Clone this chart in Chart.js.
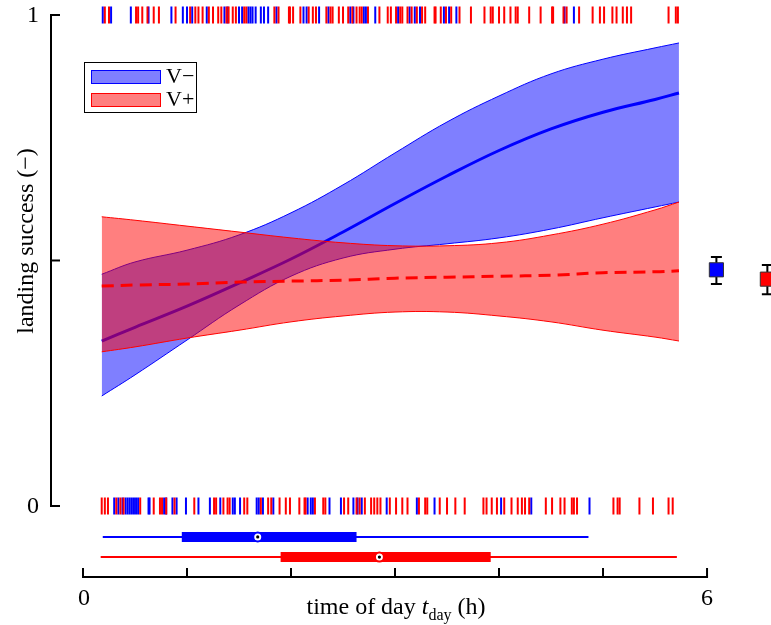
<!DOCTYPE html>
<html>
<head>
<meta charset="utf-8">
<script src="https://cdn.jsdelivr.net/npm/chart.js@4.4.0/dist/chart.umd.min.js"></script>
<style>
  html, body { margin: 0; padding: 0; background: #fff; }
  #wrap { width: 771px; height: 625px; }
</style>
</head>
<body>
<div id="wrap"><canvas id="myChart" width="771" height="625"></canvas></div>
<script>
// time grid (h) for the fitted curves
let tGrid = [0.18, 0.5, 1, 1.5, 2, 2.5, 3, 3.5, 4, 4.5, 5, 5.5, 5.73];

// V- fit and band
let blueMean = [0.336, 0.364, 0.407, 0.454, 0.503, 0.558, 0.616, 0.672, 0.724, 0.768, 0.802, 0.828, 0.841];
let blueUpper = [0.472, 0.497, 0.521, 0.552, 0.597, 0.654, 0.719, 0.782, 0.835, 0.88, 0.91, 0.933, 0.943];
let blueLower = [0.224, 0.267, 0.338, 0.409, 0.468, 0.505, 0.523, 0.534, 0.546, 0.564, 0.587, 0.609, 0.619];

// V+ fit and band
let redMean = [0.448, 0.45, 0.452, 0.456, 0.458, 0.46, 0.464, 0.466, 0.468, 0.47, 0.475, 0.477, 0.479];
let redUpper = [0.589, 0.582, 0.57, 0.558, 0.546, 0.536, 0.53, 0.53, 0.536, 0.552, 0.574, 0.603, 0.619];
let redLower = [0.314, 0.324, 0.342, 0.358, 0.375, 0.387, 0.395, 0.395, 0.387, 0.375, 0.358, 0.344, 0.336];

// observations: successes (top rug) and failures (bottom rug), time in h
let succBlue = [0.19, 0.27, 0.46, 0.63, 0.85, 0.96, 1.0, 1.05, 1.19, 1.36, 1.39, 1.5, 1.53, 1.59, 1.61, 1.63, 1.66, 1.71, 1.74, 1.78, 1.86,
  2.12, 2.15, 2.27, 2.36, 2.57, 2.6, 2.7, 2.72, 2.81, 3.03, 3.14, 3.19, 3.24, 3.47, 3.52, 3.59, 4.63, 4.72];
let succRed = [0.21, 0.25, 0.51, 0.53, 0.57, 0.62, 0.68, 0.73, 0.89, 1.03, 1.08, 1.11, 1.15, 1.21, 1.25, 1.3, 1.33, 1.38, 1.4, 1.44, 1.47,
  1.55, 1.57, 1.84, 1.88, 1.98, 1.99, 2.02, 2.09, 2.17, 2.21, 2.24, 2.34, 2.38, 2.4, 2.46, 2.5, 2.55, 2.59, 2.63, 2.66, 2.68, 2.74,
  2.85, 2.93, 2.96, 3.01, 3.05, 3.07, 3.12, 3.16, 3.21, 3.26, 3.29, 3.38, 3.39, 3.44, 3.49, 3.54, 3.62, 3.73, 3.86, 3.92, 3.94, 4.0,
  4.05, 4.11, 4.16, 4.18, 4.29, 4.4, 4.51, 4.52, 4.62, 4.65, 4.77, 4.9, 4.97, 5.01, 5.09, 5.13, 5.19, 5.23, 5.27, 5.63, 5.7, 5.72];
let failBlue = [0.3, 0.34, 0.38, 0.41, 0.43, 0.45, 0.47, 0.49, 0.51, 0.53, 0.63, 0.64, 0.78, 0.8, 0.86, 0.9, 0.99, 1.11, 1.22, 1.32,
  1.44, 1.46, 1.51, 1.67, 1.69, 1.73, 1.83, 2.16, 2.19, 2.21, 2.37, 2.48, 2.6, 2.64, 2.68, 2.92, 3.21, 3.38, 4.02, 4.31, 4.87];
let failRed = [0.18, 0.21, 0.24, 0.32, 0.36, 0.39, 0.55, 0.68, 0.74, 0.76, 0.8, 0.88, 1.07, 1.26, 1.28, 1.35, 1.39, 1.41, 1.55, 1.58,
  1.71, 1.78, 1.81, 1.89, 1.95, 1.99, 2.08, 2.13, 2.14, 2.23, 2.31, 2.33, 2.51, 2.55, 2.63, 2.66, 2.71, 2.77, 2.8, 2.83, 2.86, 2.95,
  3.01, 3.07, 3.12, 3.23, 3.29, 3.31, 3.43, 3.5, 3.58, 3.67, 3.85, 3.88, 3.93, 3.98, 4.05, 4.12, 4.18, 4.22, 4.25, 4.29, 4.45, 4.51,
  4.59, 4.63, 4.7, 4.72, 4.75, 5.1, 5.14, 5.16, 5.35, 5.48, 5.63, 5.67];

// box plots of t_day: min, q1, median, q3, max
let blueBox = [0.19, 0.95, 1.68, 2.63, 4.86];
let redBox = [0.17, 1.9, 2.85, 3.92, 5.71];

// overall success rate with interval [V-, V+]
let rateMean = [0.481, 0.462];
let rateLow = [0.452, 0.431];
let rateHigh = [0.507, 0.491];

const BLUE = "#0000ff";
const RED = "#ff0000";
const FONT = '"Liberation Serif", "Times New Roman", serif';
const rowBlue = -0.063, rowRed = -0.104; // y of the box plot rows
const rateX = [6.09, 6.58];

function pts(xs, ys) {
  return xs.map((x, i) => ({ x: x, y: ys[i] }));
}
function rug(xs, y) {
  return xs.map((x) => ({ x: x, y: y }));
}
function curve(data, color, extra) {
  return Object.assign({
    type: "line",
    data: data,
    borderColor: color,
    borderWidth: 1,
    pointRadius: 0,
    fill: false,
    tension: 0.4,
  }, extra);
}
function ticks(xs, y, color) {
  return {
    type: "scatter",
    data: rug(xs, y),
    pointStyle: "line",
    rotation: 90,
    radius: 8.5,
    borderColor: color,
    borderWidth: 2,
    order: 4,
  };
}
function seg(a, b, y, color, w) {
  return {
    type: "line",
    data: [{ x: a, y: y }, { x: b, y: y }],
    borderColor: color,
    borderWidth: w,
    borderCapStyle: "butt",
    pointRadius: 0,
    order: 3,
  };
}
function box(stats, y, color) {
  return [
    seg(stats[0], stats[4], y, color, 2),
    seg(stats[1], stats[3], y, color, 10),
    { type: "scatter", data: [{ x: stats[2], y: y }], pointStyle: "circle", radius: 4.5,
      backgroundColor: "#fff", borderColor: color, borderWidth: 2, order: 2 },
    { type: "scatter", data: [{ x: stats[2], y: y }], pointStyle: "circle", radius: 1.6,
      backgroundColor: "#000", borderColor: "#000", borderWidth: 0, order: 1 },
  ];
}
function rate(i, color) {
  let x = rateX[i];
  return [
    { type: "line", data: [{ x: x, y: rateLow[i] }, { x: x, y: rateHigh[i] }], borderColor: "#000",
      borderWidth: 2, pointRadius: 0, order: 3 },
    { type: "scatter", data: [{ x: x, y: rateLow[i] }, { x: x, y: rateHigh[i] }], pointStyle: "line",
      radius: 5.5, borderColor: "#000", borderWidth: 2, order: 3 },
    { type: "scatter", data: [{ x: x, y: rateMean[i] }], pointStyle: "rect", radius: 10,
      backgroundColor: color, borderColor: "#333", borderWidth: 1, order: 2 },
  ];
}

let datasets = [
  curve(pts(tGrid, blueUpper), BLUE, { fill: "+1", backgroundColor: "rgba(0,0,255,0.5)", order: 10 }),
  curve(pts(tGrid, blueLower), BLUE, { order: 9 }),
  curve(pts(tGrid, blueMean), BLUE, { borderWidth: 3, order: 8 }),
  curve(pts(tGrid, redUpper), RED, { fill: "+1", backgroundColor: "rgba(255,0,0,0.5)", order: 7 }),
  curve(pts(tGrid, redLower), RED, { order: 6 }),
  curve(pts(tGrid, redMean), RED, { borderWidth: 3, borderDash: [12, 7], order: 5 }),
  ticks(succRed, 1, RED),
  ticks(failRed, 0, RED),
  ticks(succBlue, 1, BLUE),
  ticks(failBlue, 0, BLUE),
].concat(box(blueBox, rowBlue, BLUE), box(redBox, rowRed, RED), rate(0, BLUE), rate(1, RED));

// axes, labels and legend drawn in the style of the original figure
const frame = {
  id: "frame",
  afterDraw(chart) {
    const ctx = chart.ctx;
    const x = chart.scales.x;
    const y = chart.scales.y;
    ctx.save();
    ctx.strokeStyle = "#000";
    ctx.fillStyle = "#000";
    ctx.lineWidth = 2;
    ctx.lineCap = "butt";

    // y axis
    let ax = 51;
    let y1 = y.getPixelForValue(1), y0 = y.getPixelForValue(0);
    ctx.beginPath();
    ctx.moveTo(ax, y1 - 1);
    ctx.lineTo(ax, y0 + 1);
    ctx.stroke();
    [0, 0.5, 1].forEach((v) => {
      let py = y.getPixelForValue(v);
      ctx.beginPath();
      ctx.moveTo(ax, py);
      ctx.lineTo(ax + 9, py);
      ctx.stroke();
    });
    let big = "24px " + FONT, ital = "italic 24px " + FONT, small = "16px " + FONT;
    ctx.font = big;
    ctx.textAlign = "center";
    ctx.textBaseline = "middle";
    ctx.fillText("1", 33, y1 + 1);
    ctx.fillText("0", 33, y0 + 1);

    // x axis
    let ay = 577;
    ctx.beginPath();
    ctx.moveTo(x.getPixelForValue(0) - 1, ay);
    ctx.lineTo(x.getPixelForValue(6) + 1, ay);
    ctx.stroke();
    for (let t = 0; t <= 6; t++) {
      let px = x.getPixelForValue(t);
      ctx.beginPath();
      ctx.moveTo(px, ay);
      ctx.lineTo(px, ay - 9);
      ctx.stroke();
    }
    ctx.fillText("0", x.getPixelForValue(0) + 1, 599);
    ctx.fillText("6", x.getPixelForValue(6), 599);

    // x title: time of day t_day (h)
    ctx.textBaseline = "alphabetic";
    ctx.textAlign = "left";
    let parts = [["time of day ", big, 0], ["t", ital, 0], ["day", small, 6], [" (h)", big, 0]];
    let w = 0;
    parts.forEach((p) => { ctx.font = p[1]; w += ctx.measureText(p[0]).width; });
    let cx = 396 - w / 2;
    parts.forEach((p) => {
      ctx.font = p[1];
      ctx.fillText(p[0], cx, 614 + p[2]);
      cx += ctx.measureText(p[0]).width;
    });

    // y title
    ctx.save();
    ctx.translate(27, 241);
    ctx.rotate(-Math.PI / 2);
    ctx.font = big;
    ctx.textAlign = "center";
    ctx.textBaseline = "middle";
    ctx.fillText("landing success (\u2212)", 0, 0);
    ctx.restore();

    // legend
    ctx.lineWidth = 1;
    ctx.strokeStyle = "#000";
    ctx.strokeRect(84.5, 62.5, 112, 50);
    [["V\u2212", BLUE, "rgba(0,0,255,0.5)", 70], ["V+", RED, "rgba(255,0,0,0.5)", 93]].forEach((e) => {
      ctx.fillStyle = e[2];
      ctx.fillRect(91, e[3], 70, 14);
      ctx.strokeStyle = e[1];
      ctx.strokeRect(91.5, e[3] + 0.5, 69, 13);
      ctx.fillStyle = "#000";
      ctx.font = "22px " + FONT;
      ctx.textAlign = "left";
      ctx.textBaseline = "middle";
      ctx.fillText(e[0], 166, e[3] + 7);
    });
    ctx.restore();
  },
};

let myChart = document.getElementById("myChart").getContext("2d");
let landingChart = new Chart(myChart, {
  type: "line",
  data: { datasets: datasets },
  options: {
    responsive: false,
    animation: false,
    events: [],
    layout: { autoPadding: false, padding: { left: 83, right: 0, top: 0, bottom: 20.8 } },
    plugins: { legend: { display: false }, tooltip: { enabled: false } },
    scales: {
      x: { type: "linear", min: 0, max: 6.615, display: false },
      y: { type: "linear", min: -0.2, max: 1.0305, display: false },
    },
  },
  plugins: [frame],
});
</script>
</body>
</html>
